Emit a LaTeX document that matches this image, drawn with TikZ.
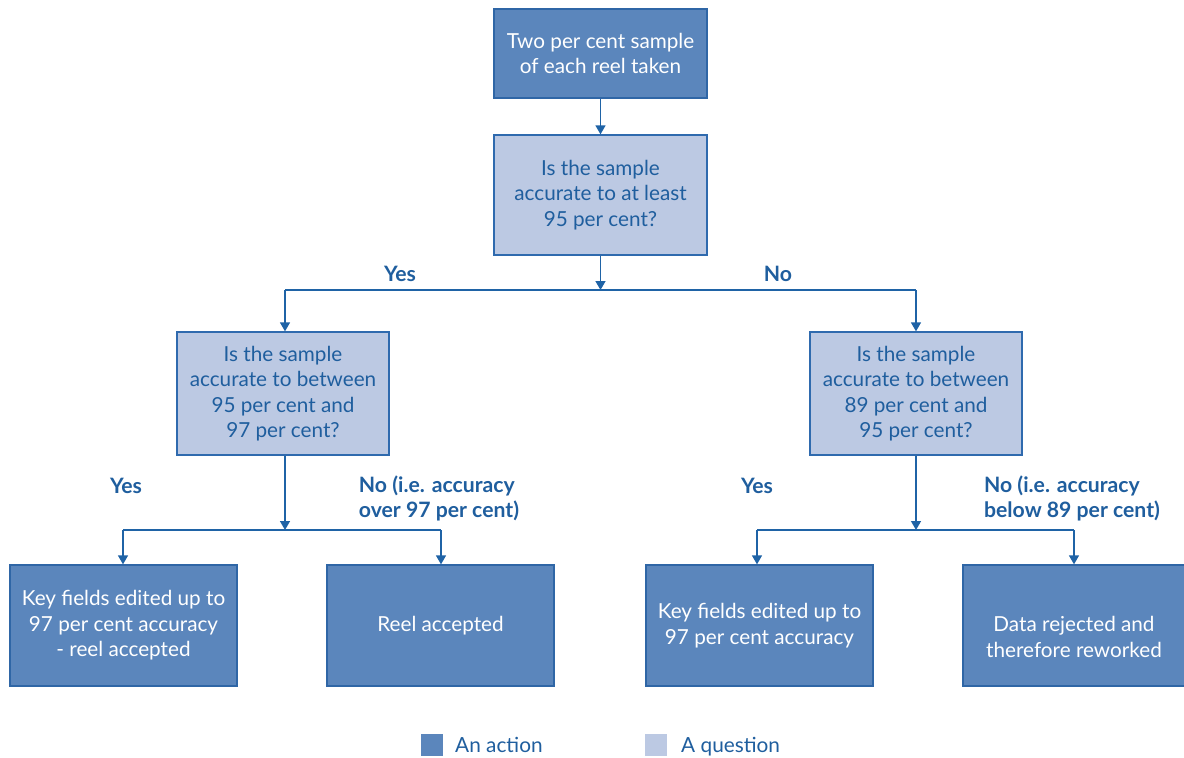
\documentclass[tikz,border=0pt]{standalone}
\usepackage{fontspec}
\setmainfont{Lato}
\usetikzlibrary{arrows.meta}
\definecolor{actfill}{HTML}{5B86BC}
\definecolor{actdraw}{HTML}{2F66A6}
\definecolor{qfill}{HTML}{BCC9E3}
\definecolor{qdraw}{HTML}{2F6AAE}
\definecolor{qtext}{HTML}{1F5E9E}
\definecolor{linec}{HTML}{1F63A6}
\tikzset{
  x=1pt,y=-1pt,
  basebox/.style={rectangle,inner sep=0pt,align=center,font=\fontsize{20.7}{25.5}\selectfont,line width=1.3pt},
  action/.style={basebox,fill=actfill,draw=actdraw,text=white},
  question/.style={basebox,fill=qfill,draw=qdraw,text=qtext},
  lbl/.style={font=\fontsize{21.2}{25}\selectfont\bfseries,text=qtext,align=left,inner sep=0pt},
  conn/.style={draw=linec,line width=1.4pt},
  arr/.style={conn,-{Triangle[width=10pt,length=9pt]}},
  legtext/.style={font=\fontsize{20.8}{24}\selectfont,text=qtext,anchor=base west,inner sep=0pt},
}
\begin{document}
\begin{tikzpicture}
\useasboundingbox (0,0) rectangle (1184,758);
% boxes
\node[action,minimum width=213pt,minimum height=89pt] (a) at (600.5,53.5) {Two per cent sample\\of each reel taken};
\node[question,minimum width=213pt,minimum height=120pt] (q1) at (600.5,195) {Is the sample\\accurate to at least\\95 per cent?};
\node[question,minimum width=212pt,minimum height=123pt] (q2) at (283,393.5) {Is the sample\\accurate to between\\95 per cent and\\97 per cent?};
\node[question,minimum width=212pt,minimum height=123pt] (q3) at (916,393.5) {Is the sample\\accurate to between\\89 per cent and\\95 per cent?};
\node[action,minimum width=227pt,minimum height=121pt] (b1) at (123.5,625.5) {Key fields edited up to\\97 per cent accuracy\\- reel accepted};
\node[action,minimum width=227pt,minimum height=121pt] (b2) at (440.5,625.5) {Reel accepted};
\node[action,minimum width=227pt,minimum height=121pt] (b3) at (759.5,625.5) {Key fields edited up to\\97 per cent accuracy};
\node[action,minimum width=222pt,minimum height=121pt] (b4) at (1074,625.5) {};
\node[basebox,text=white] (b4t) at (1074,637) {Data rejected and\\therefore reworked};
% junction coordinates
\coordinate (j1) at (600.5,290);
\coordinate (j1l) at (285,290);
\coordinate (j1r) at (916,290);
\coordinate (j2) at (285,530);
\coordinate (j2l) at (123,530);
\coordinate (j2r) at (441,530);
\coordinate (j3) at (916,530);
\coordinate (j3l) at (757,530);
\coordinate (j3r) at (1074,530);
% connectors
\draw[arr] (a.south) -- (a.south |- q1.north);
\draw[arr] (q1.south) -- (j1);
\draw[conn] (j1l) -- (j1r);
\draw[arr] (j1l) -- (j1l |- q2.north);
\draw[arr] (j1r) -- (j1r |- q3.north);
\draw[arr] (q2.south -| j2) -- (j2);
\draw[conn] (j2l) -- (j2r);
\draw[arr] (j2l) -- (j2l |- b1.north);
\draw[arr] (j2r) -- (j2r |- b2.north);
\draw[arr] (q3.south) -- (j3);
\draw[conn] (j3l) -- (j3r);
\draw[arr] (j3l) -- (j3l |- b3.north);
\draw[arr] (j3r) -- (j3r |- b4.north);
% labels
\node[lbl] (lyes1) at (400,274) {Yes};
\node[lbl] (lno1) at (778,274) {No};
\node[lbl] (lyes2) at (126,486) {Yes};
\node[lbl] (lno2) at (439,498) {No (i.e. accuracy\\over 97 per cent)};
\node[lbl] (lyes3) at (757,486) {Yes};
\node[lbl] (lno3) at (1072,498) {No (i.e. accuracy\\below 89 per cent)};
% legend
\node[fill=actfill,minimum size=22pt,inner sep=0pt] (leg1) at (432,745) {};
\node[legtext] (leg1t) at (455,752) {An action};
\node[fill=qfill,minimum size=22pt,inner sep=0pt] (leg2) at (656,745) {};
\node[legtext] (leg2t) at (681,752) {A question};
\end{tikzpicture}
\end{document}
